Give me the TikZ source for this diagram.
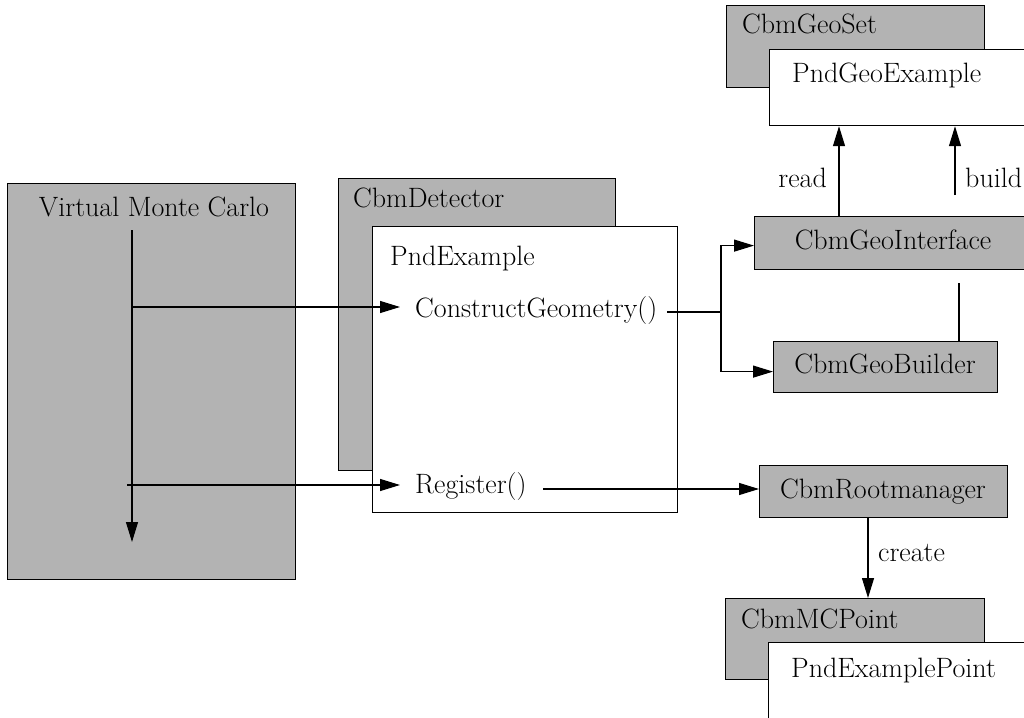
\documentclass[tikz,border=0pt]{standalone}
\usepackage{fontspec}
\usetikzlibrary{arrows.meta}
\definecolor{boxgray}{RGB}{179,179,179}
\tikzset{
  every node/.style={font=\rmfamily\fontsize{28}{33}\selectfont},
  boxbase/.style={draw=black, line width=1.2pt, anchor=north west, inner sep=0pt, rectangle},
  graybox/.style={boxbase, fill=boxgray},
  whitebox/.style={boxbase, fill=white},
  lbl/.style={inner sep=0pt, anchor=base west},
  conn/.style={line width=1.2pt},
  arr/.style={conn, -{Triangle[length=20pt,width=12pt]}},
}
\newcommand{\boxat}[6]{% style, name, x1, y1, x2, y2
  \node[#1, minimum width={(#5-#3)*1pt}, minimum height={(#6-#4)*1pt}] (#2) at (#3,#4) {};}
\begin{document}
\begin{tikzpicture}[x=1pt,y=-1pt]
\clip (0,0) rectangle (1024,717);
\fill[white] (0,0) rectangle (1024,717);

% Virtual Monte Carlo
\boxat{graybox}{vmc}{7}{183}{295}{579}
\node[inner sep=0pt, anchor=base] (vmct) at (154,216) {Virtual Monte Carlo};

% detector class and its implementation
\boxat{graybox}{det}{338}{178}{615}{470}
\node[lbl] (dett) at (353,207) {CbmDetector};
\boxat{whitebox}{pnd}{372}{226}{677}{512}
\node[lbl] (pndt) at (390,265) {PndExample};
\node[lbl] (cg) at (415,317) {ConstructGeometry()};
\node[lbl] (reg) at (415,493) {Register()};

% geometry classes
\boxat{graybox}{geoset}{726}{5}{984}{87}
\node[lbl] (geosett) at (742,34) {CbmGeoSet};
\boxat{whitebox}{pndgeo}{769}{49}{1040}{125}
\node[lbl] (pndgeot) at (792,82) {PndGeoExample};
\boxat{graybox}{geoint}{754}{216}{1040}{269}
\node[inner sep=0pt, anchor=base] (geointt) at (893,249) {CbmGeoInterface};
\boxat{graybox}{geobld}{773}{341}{997}{392}
\node[inner sep=0pt, anchor=base] (geobldt) at (885,373) {CbmGeoBuilder};

% output classes
\boxat{graybox}{root}{759}{465}{1007}{517}
\node[inner sep=0pt, anchor=base] (roott) at (883,498) {CbmRootmanager};
\boxat{graybox}{mcp}{725}{598}{984}{679}
\node[lbl] (mcpt) at (741,628) {CbmMCPoint};
\boxat{whitebox}{pndp}{768}{642}{1040}{740}
\node[lbl] (pndpt) at (791,677) {PndExamplePoint};

% edge labels
\node[inner sep=0pt, anchor=base east] (readt) at (827,187) {read};
\node[lbl] (buildt) at (965,187) {build};
\node[lbl] (createt) at (878,561) {create};

% flow inside Virtual Monte Carlo
\coordinate (vtop) at (132,230);
\coordinate (vbot) at (132,542);
\coordinate (v1) at (132,307);
\coordinate (v2) at (127,485);
\coordinate (cgIn) at (400,307);
\coordinate (regIn) at (400,485);
\draw[arr] (vtop) -- (vbot);
\draw[arr] (v1) -- (cgIn);
\draw[arr] (v2) -- (regIn);

% ConstructGeometry() to the geometry classes
\coordinate (cgOut) at (667,312);
\coordinate (jn) at (721,312);
\draw[conn] (cgOut) -- (jn);
\draw[arr] (jn) |- ([yshift=-2.5pt]geoint.west);
\draw[arr] (jn) |- ([yshift=-4.5pt]geobld.west);

% read / build
\coordinate (rd) at (839,0);
\draw[arr] (geoint.north -| rd) -- (pndgeo.south -| rd);
\coordinate (bTop) at (955,195);
\draw[arr] (bTop) -- (pndgeo.south -| bTop);
\coordinate (bLow) at (959,283);
\draw[conn] (bLow) -- (geobld.north -| bLow);

% Register() to the root manager, which creates the points
\coordinate (regOut) at (543,489);
\draw[arr] (regOut) -- (regOut -| root.west);
\coordinate (cr) at (868,0);
\draw[arr] (root.south -| cr) -- (mcp.north -| cr);
\end{tikzpicture}
\end{document}
